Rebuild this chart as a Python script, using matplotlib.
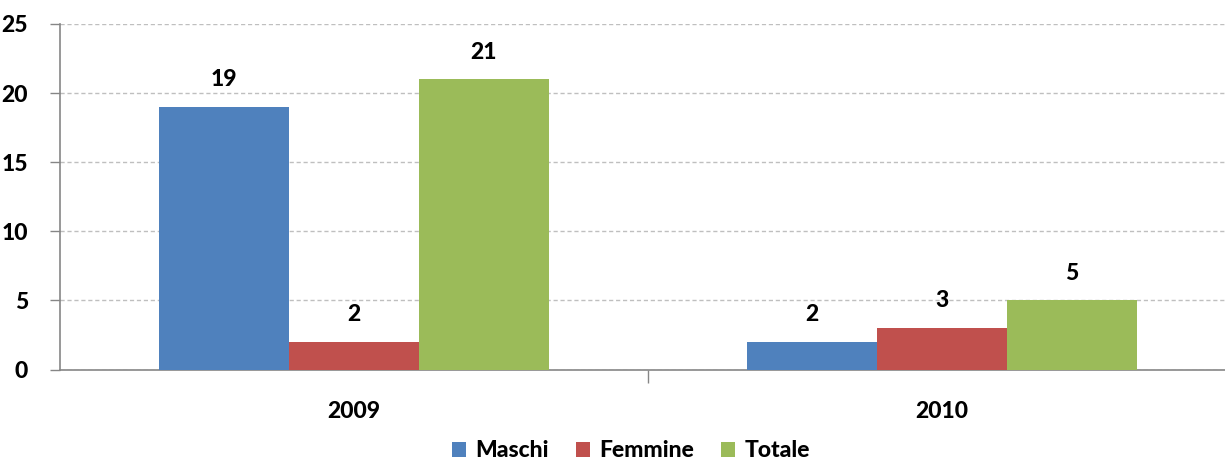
import numpy as np
import matplotlib
matplotlib.use("Agg")
import matplotlib.pyplot as plt

years = ["2009", "2010"]
series = ["Maschi", "Femmine", "Totale"]
maschi = [19, 2]
femmine = [2, 3]
totale = [21, 5]
colors = ["#4F81BD", "#C0504D", "#9BBB59"]

plt.rcParams["font.family"] = ["Lato", "DejaVu Sans"]
plt.rcParams["font.weight"] = "black"

fs = 16.5
fig = plt.figure(figsize=(12.25, 4.68), dpi=100)
ax = fig.add_axes([60 / 1225, 1 - 369.5 / 468, 1176 / 1225, 345.5 / 468])

x = np.arange(len(years))
w = 0.221
for i, (name, vals) in enumerate(zip(series, [maschi, femmine, totale])):
    bars = ax.bar(x + (i - 1) * w, vals, w, color=colors[i], label=name, zorder=3)
    for b, v in zip(bars, vals):
        ax.annotate(str(v), (b.get_x() + b.get_width() / 2, v), xytext=(0, 12),
                    textcoords="offset points", ha="center", va="bottom",
                    fontsize=fs, fontweight="black")

ax.set_xlim(-0.5, 1.5)
ax.set_ylim(0, 25)
ax.set_yticks(range(0, 26, 5))
ax.set_xticks([0.5], minor=False)
ax.set_xticks([0, 1], minor=True)
ax.set_xticklabels([""])
ax.set_xticklabels(years, minor=True)
ax.tick_params(axis="x", which="major", length=9, color="#868686", width=1)
ax.tick_params(axis="x", which="minor", length=0, pad=23, labelsize=fs)
ax.tick_params(axis="y", length=7, color="#868686", width=1, pad=16, labelsize=fs)

ax.yaxis.grid(True, linestyle=(0, (3, 2)), color="#BFBFBF", linewidth=1, zorder=0)
for s in ["top", "right"]:
    ax.spines[s].set_visible(False)
for s in ["left", "bottom"]:
    ax.spines[s].set_color("#868686")
    ax.spines[s].set_linewidth(1.2)

fig.legend(loc="lower center", bbox_to_anchor=(0.515, -0.03), ncol=3, frameon=False,
           fontsize=fs, handlelength=0.6, handleheight=0.6, handletextpad=0.4,
           columnspacing=1.2)

fig.savefig("out.png", dpi=100)
